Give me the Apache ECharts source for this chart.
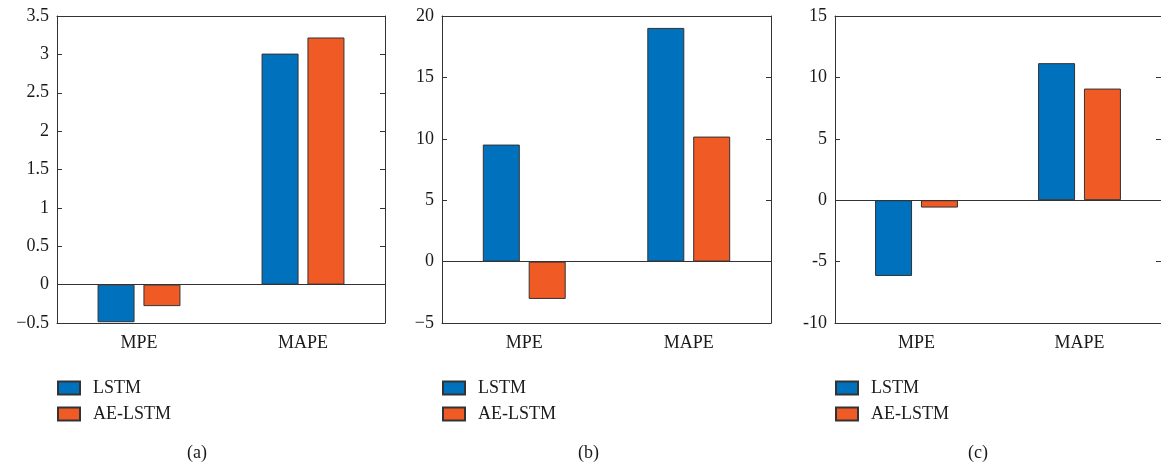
<!DOCTYPE html>
<html lang="en">
<head>
  <meta charset="UTF-8">
  <title>MPE / MAPE</title>
  <script src="https://cdn.jsdelivr.net/npm/echarts@6/dist/echarts.min.js"></script>
  <style>
    html, body { margin: 0; padding: 0; background: #fff; }
    #chart { width: 1161px; height: 465px; }
  </style>
</head>
<body>
<div id="chart"></div>
<script>
  // categories and values
  const categories = ['MPE', 'MAPE'];
  const seriesNames = ['LSTM', 'AE-LSTM'];
  const lstmA = [-0.49, 3.01];
  const aeA = [-0.28, 3.22];
  const lstmB = [9.53, 19.03];
  const aeB = [-3.04, 10.18];
  const lstmC = [-6.17, 11.16];
  const aeC = [-0.6, 9.09];
  const panelLabels = ['(a)', '(b)', '(c)'];
  // y ranges per panel: [min, max, interval]
  const yRanges = [[-0.5, 3.5, 0.5], [-5, 20, 5], [-10, 15, 5]];

  const font = '"Liberation Serif", "Times New Roman", serif';
  const ink = '#333';
  const textInk = '#1a1a1a';
  const colors = ['#0072BD', '#F05A24'];

  const grids = [
    { left: 57, top: 16, width: 328, height: 307 },
    { left: 442, top: 16, width: 329, height: 307 },
    { left: 835, top: 16, width: 328, height: 307 }
  ];
  const values = [[lstmA, aeA], [lstmB, aeB], [lstmC, aeC]];
  const captionX = [199, 590, 980];

  const xAxis = [], yAxis = [], series = [], legend = [], graphic = [];

  grids.forEach((g, i) => {
    const [mn, mx, step] = yRanges[i];
    // bottom axis with labels
    xAxis.push({
      type: 'category', gridIndex: i, data: categories, position: 'bottom',
      axisLine: { onZero: false, lineStyle: { color: ink, width: 1 } },
      axisTick: { inside: true, alignWithLabel: true, length: 5, lineStyle: { color: ink } },
      axisLabel: { margin: 11, fontFamily: font, fontSize: 18, color: textInk }
    });
    // top axis: box edge + ticks only
    xAxis.push({
      type: 'category', gridIndex: i, data: categories, position: 'top',
      axisLine: { onZero: false, lineStyle: { color: ink, width: 1 } },
      axisTick: { inside: true, alignWithLabel: true, length: 5, lineStyle: { color: ink } },
      axisLabel: { show: false }
    });
    yAxis.push({
      type: 'value', gridIndex: i, min: mn, max: mx, interval: step, position: 'left',
      axisLine: { show: true, lineStyle: { color: ink, width: 1 } },
      axisTick: { show: true, inside: true, length: 5, lineStyle: { color: ink } },
      splitLine: { show: false },
      axisLabel: {
        margin: 8, fontFamily: font, fontSize: 18, color: textInk,
        // panels (a) and (b) print a true minus sign, (c) a hyphen
        formatter: v => {
          const s = String(Math.round(v * 10) / 10);
          return i < 2 ? s.replace('-', '\u2212') : s;
        }
      }
    });
    yAxis.push({
      type: 'value', gridIndex: i, min: mn, max: mx, interval: step, position: 'right',
      axisLine: { show: true, lineStyle: { color: ink, width: 1 } },
      axisTick: { show: true, inside: true, length: 5, lineStyle: { color: ink } },
      splitLine: { show: false },
      axisLabel: { show: false }
    });

    values[i].forEach((vals, k) => {
      const s = {
        name: seriesNames[k], type: 'bar',
        xAxisIndex: 2 * i, yAxisIndex: 2 * i,
        data: vals, barWidth: 37, barGap: '24%',
        itemStyle: { color: colors[k], borderColor: ink, borderWidth: 1 }
      };
      if (k === 0) {
        // zero baseline across the plot
        s.markLine = {
          silent: true, symbol: 'none', label: { show: false },
          lineStyle: { color: ink, width: 1, type: 'solid' },
          data: [{ yAxis: 0 }]
        };
      }
      series.push(s);
    });

    legend.push({
      data: seriesNames, orient: 'vertical',
      left: g.left - 5, top: 374,
      itemWidth: 22, itemHeight: 13, itemGap: 8,
      icon: 'rect',
      textStyle: { fontFamily: font, fontSize: 18, color: textInk, padding: [0, 0, 0, 8] }
    });

    graphic.push({
      type: 'text', left: captionX[i] - 12, top: 444,
      style: { text: panelLabels[i], font: '18px ' + font, fill: textInk }
    });
  });

  const chart = echarts.init(document.getElementById('chart'));
  chart.setOption({
    animation: false,
    grid: grids,
    xAxis: xAxis,
    yAxis: yAxis,
    legend: legend,
    series: series,
    graphic: graphic
  });
</script>
</body>
</html>
